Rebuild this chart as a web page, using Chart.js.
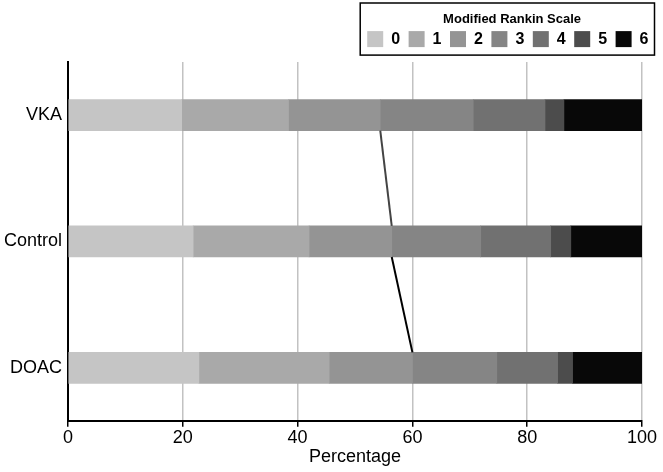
<!DOCTYPE html>
<html>
<head>
<meta charset="utf-8">
<title>Modified Rankin Scale</title>
<script src="https://cdn.jsdelivr.net/npm/chart.js@4"></script>
<style>
    html, body { margin: 0; padding: 0; background: #fff; }
    #wrap { width: 663px; height: 472px; position: relative; }
</style>
</head>
<body>
<div id="wrap"><canvas id="mrsChart"></canvas></div>
<script>
/* --- Dati --- */
const groups = ['VKA', 'Control', 'DOAC'];
const mrsLevels = ['0', '1', '2', '3', '4', '5', '6'];
const vka = [19.8, 18.6, 16.0, 16.2, 12.5, 3.3, 13.6];
const control = [21.8, 20.2, 14.4, 15.5, 12.2, 3.5, 12.4];
const doac = [22.8, 22.7, 14.5, 14.7, 10.6, 2.6, 12.1];
const xTicks = [0, 20, 40, 60, 80, 100];

const shades = ['#c5c5c5', '#a9a9a9', '#949494', '#858585', '#717171', '#4c4c4c', '#080808'];
const connectorColors = ['#444444', '#000000'];
const FONT = '"Liberation Sans", Arial, sans-serif';

const groupValues = [vka, control, doac];

const datasets = mrsLevels.map((lvl, k) => ({
    label: lvl,
    data: groupValues.map((vals, i) => ({ x: vals[k], y: i })),
    backgroundColor: shades[k],
    borderWidth: 0,
    barThickness: 31
}));

/* Bordo legenda */
const legendBoxPlugin = {
    id: 'legendBox',
    afterDraw(chart) {
        const lg = chart.legend;
        if (!lg || !lg.legendHitBoxes.length) return;
        const boxes = lg.legendHitBoxes;
        const left = Math.min(...boxes.map(b => b.left)) - 7;
        const right = Math.max(...boxes.map(b => b.left + b.width)) + 6;
        const bottom = boxes[0].top + boxes[0].height + 8;
        const top = lg.top + 1;
        const ctx = chart.ctx;
        ctx.save();
        ctx.strokeStyle = '#000';
        ctx.lineWidth = 1.5;
        ctx.strokeRect(left, top, right - left, bottom - top);
        ctx.restore();
    }
};

/* Linee che collegano mRS 0-2 */
const connectorPlugin = {
    id: 'connector',
    afterDatasetsDraw(chart) {
        const bars = chart.getDatasetMeta(2).data;
        const ctx = chart.ctx;
        ctx.save();
        ctx.lineWidth = 2;
        for (let i = 0; i < bars.length - 1; i++) {
            const a = bars[i], b = bars[i + 1];
            ctx.strokeStyle = connectorColors[i];
            ctx.beginPath();
            ctx.moveTo(a.x, a.y + a.height / 2);
            ctx.lineTo(b.x, b.y - b.height / 2);
            ctx.stroke();
        }
        ctx.restore();
    }
};

new Chart(document.getElementById('mrsChart'), {
    type: 'bar',
    data: { datasets },
    plugins: [legendBoxPlugin, connectorPlugin],
    options: {
        indexAxis: 'y',
        responsive: true,
        maintainAspectRatio: false,
        animation: false,
        layout: { padding: { left: -2, right: 6, top: 2, bottom: 4 } },
        scales: {
            x: {
                type: 'linear',
                min: 0,
                max: 100,
                stacked: true,
                z: 1,
                afterBuildTicks: (scale) => { scale.ticks = xTicks.map(v => ({ value: v })); },
                afterFit: (scale) => { scale.paddingRight = 21; },
                grid: {
                    color: '#c2c2c2',
                    lineWidth: 1.5,
                    drawTicks: true,
                    tickLength: 6,
                    tickColor: '#000',
                    tickWidth: 1.5
                },
                border: { color: '#000', width: 2 },
                ticks: { color: '#000', font: { family: FONT, size: 18 }, padding: 0, maxRotation: 0 },
                title: {
                    display: true,
                    text: 'Percentage',
                    color: '#000',
                    font: { family: FONT, size: 18 },
                    padding: { top: -2, bottom: 0 }
                }
            },
            // asse vuoto per lo spazio sotto la legenda
            xTop: {
                type: 'linear',
                position: 'top',
                display: true,
                grid: { display: false, drawTicks: false },
                border: { display: false },
                ticks: { display: false },
                afterFit: (scale) => { scale.height = 5; }
            },
            y: {
                type: 'linear',
                min: -0.419,
                max: 2.419,
                offset: false,
                reverse: true,
                stacked: true,
                afterBuildTicks: (scale) => { scale.ticks = groups.map((_, i) => ({ value: i })); },
                grid: { display: false, drawTicks: false },
                border: { color: '#000', width: 2 },
                ticks: {
                    color: '#000',
                    font: { family: FONT, size: 18 },
                    padding: 6,
                    callback: (v) => groups[v]
                }
            }
        },
        plugins: {
            tooltip: { enabled: false },
            legend: {
                position: 'top',
                align: 'end',
                title: {
                    display: true,
                    text: 'Modified Rankin Scale',
                    color: '#000',
                    font: { family: FONT, size: 13, weight: 'bold' },
                    padding: { top: 11, bottom: -6 }
                },
                labels: {
                    boxWidth: 16,
                    boxHeight: 16,
                    padding: 8.5,
                    color: '#000',
                    font: { family: FONT, size: 16, weight: 'bold' }
                }
            }
        }
    }
});
</script>
</body>
</html>
